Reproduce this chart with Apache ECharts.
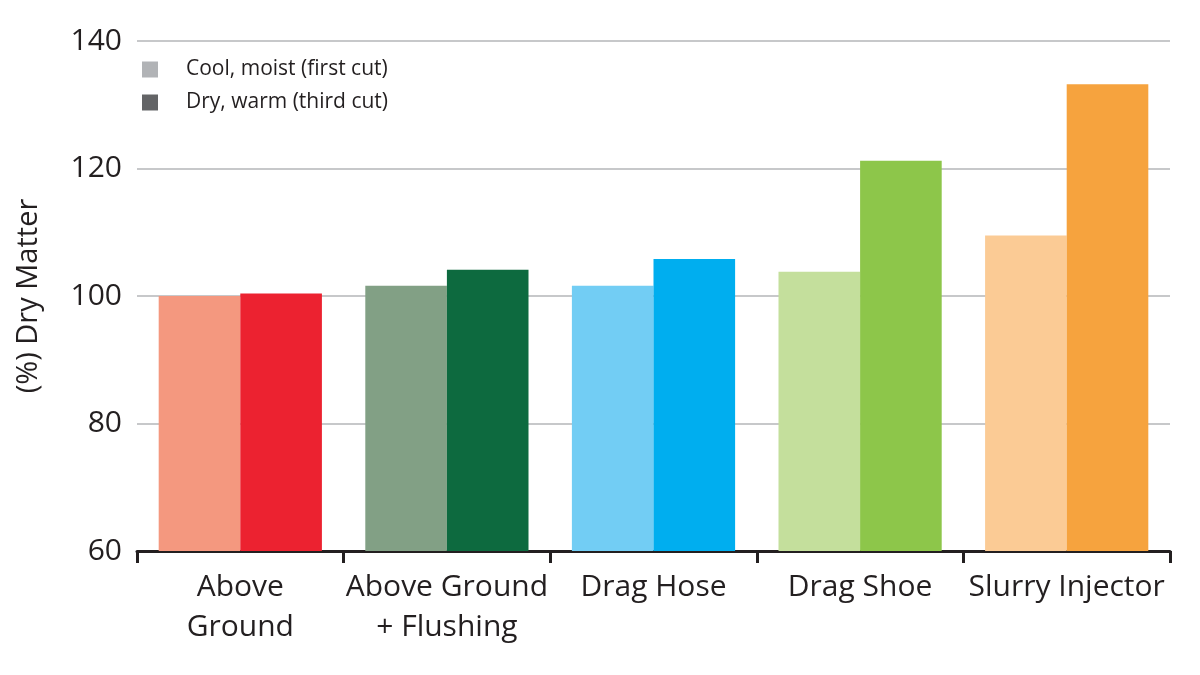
<!DOCTYPE html>
<html><head><meta charset="utf-8">
<script src="https://cdn.jsdelivr.net/npm/echarts@6/dist/echarts.min.js"></script>
<style>html,body{margin:0;padding:0;background:#fff}#c{width:1200px;height:675px}</style>
</head><body><div id="c"></div>
<script>
const categories = ["Above\nGround", "Above Ground\n+ Flushing", "Drag Hose", "Drag Shoe", "Slurry Injector"];
const seriesNames = ["Cool, moist (first cut)", "Dry, warm (third cut)"];
const coolMoist = [100.0, 101.6, 101.6, 103.8, 109.5];
const dryWarm = [100.4, 104.1, 105.8, 121.2, 133.2];
const lightColors = ["#F4987F", "#82A085", "#72CDF4", "#C4DF9C", "#FBCB95"];
const darkColors = ["#EC2230", "#0D6A3F", "#00AEEF", "#8DC64A", "#F6A33E"];
const yTicks = { min: 60, max: 140, interval: 20 };
const FONT = "Open Sans";

const chart = echarts.init(document.getElementById('c'));
chart.setOption({
  animation: false,
  textStyle: { fontFamily: FONT },
  grid: { left: 137, right: 30, top: 41, bottom: 124 },
  legend: {
    orient: 'vertical', left: 142, top: 59, padding: 0, itemWidth: 16, itemHeight: 16, itemGap: 12,
    icon: 'rect',
    textStyle: { fontFamily: FONT, fontSize: 21, lineHeight: 16, color: '#231F20', padding: [0, 0, 0, 23] },
    data: seriesNames
  },
  xAxis: {
    type: 'category', data: categories,
    axisLine: { lineStyle: { color: '#231F20', width: 3 } },
    axisTick: { show: true, interval: 0, length: 12, lineStyle: { color: '#231F20', width: 3 } },
    axisLabel: { interval: 0, fontFamily: FONT, fontSize: 30, color: '#231F20', lineHeight: 40, margin: 16 }
  },
  yAxis: {
    type: 'value', min: yTicks.min, max: yTicks.max, interval: yTicks.interval,
    name: '(%) Dry Matter', nameLocation: 'middle', nameGap: 94, nameRotate: 90,
    nameTextStyle: { fontFamily: FONT, fontSize: 29, color: '#231F20' },
    axisLine: { show: false }, axisTick: { show: false },
    axisLabel: { fontFamily: FONT, fontSize: 30, color: '#231F20', margin: 15 },
    splitLine: { lineStyle: { color: '#C7C8CA', width: 2 } }
  },
  series: [
    { name: seriesNames[0], type: 'bar', barGap: '0%', barCategoryGap: '21%',
      itemStyle: { color: '#B1B3B6' },
      data: coolMoist.map((v, i) => ({ value: v, itemStyle: { color: lightColors[i] } })) },
    { name: seriesNames[1], type: 'bar', barGap: '0%', barCategoryGap: '21%',
      itemStyle: { color: '#636466' },
      data: dryWarm.map((v, i) => ({ value: v, itemStyle: { color: darkColors[i] } })) }
  ]
});
</script></body></html>
